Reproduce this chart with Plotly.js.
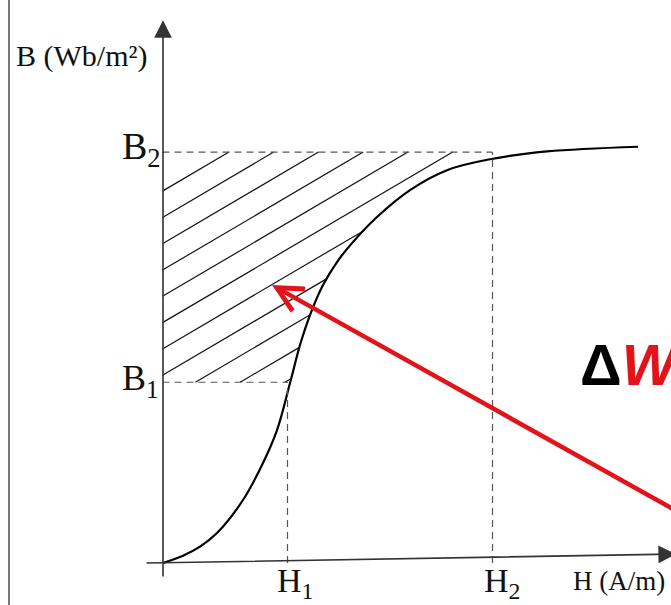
<!DOCTYPE html>
<html>
<head>
<meta charset="utf-8">
<script src="https://cdn.plot.ly/plotly-3.0.1.min.js"></script>
<style>html,body{margin:0;padding:0;background:#fff;}#chart{width:671px;height:605px;}</style>
</head>
<body>
<div id="chart"></div>
<script>
// B-H magnetisation curve (arbitrary units)
const curveH = [0, 0.41, 0.75, 1.09, 1.61, 2.01, 2.29, 2.55, 2.75, 2.95, 3.21, 3.49, 3.79, 4.29, 4.95, 5.69, 6.55, 7.69, 9.51];
const curveB = [0, 0.036, 0.080, 0.146, 0.307, 0.487, 0.647, 0.876, 1.061, 1.207, 1.353, 1.465, 1.557, 1.684, 1.815, 1.912, 1.965, 2.003, 2.026];
const H1 = 2.5, H2 = 6.6;
const B1 = 0.88, B2 = 2.0;
const tickLabelsH = ["H<sub>1</sub>", "H<sub>2</sub>"];
const tickLabelsB = ["B<sub>1</sub>", "B<sub>2</sub>"];
const arrowTip = [2.19, 1.353];
const arrowTail = [10.75, 0.19];

// hatch style
const hatchSlope = 0.143, hatchFirst = 1.81, hatchStep = 0.128, hatchCount = 11;

function f(h) {
  if (h <= curveH[0]) return curveB[0];
  for (let i = 1; i < curveH.length; i++) {
    if (h <= curveH[i]) {
      const t = (h - curveH[i-1]) / (curveH[i] - curveH[i-1]);
      return curveB[i-1] + t * (curveB[i] - curveB[i-1]);
    }
  }
  return curveB[curveB.length - 1];
}

const hx = [], hy = [];
for (let k = 0; k < hatchCount; k++) {
  const c = hatchFirst - k * hatchStep;
  let xs = Math.max(0, (B1 - c) / hatchSlope);
  let xe = (B2 - c) / hatchSlope;
  let step = 0.002, x = xs;
  while (x < xe) {
    if (c + hatchSlope * x < f(x)) { xe = x; break; }
    x += step;
  }
  if (xe <= xs) continue;
  hx.push(xs, xe, null);
  hy.push(c + hatchSlope * xs, c + hatchSlope * xe, null);
}

const traces = [
  {x: hx, y: hy, mode: 'lines', line: {color: '#111', width: 1.2}, hoverinfo: 'skip'},
  {x: curveH, y: curveB, mode: 'lines', line: {color: '#000', width: 2.2, shape: 'spline', smoothing: 1}, hoverinfo: 'skip'}
];

const W = 671, Hh = 605;
const px = (x) => x / W, py = (y) => 1 - y / Hh;
const dashLine = {color: '#555', width: 1.2, dash: '7px,5px'};

const serif = 'Liberation Serif, Times New Roman, serif';

const layout = {
  width: W, height: Hh,
  margin: {l: 0, r: 0, t: 0, b: 0},
  paper_bgcolor: '#fff', plot_bgcolor: '#fff',
  showlegend: false,
  xaxis: {range: [-3.25, 10.17], visible: false, fixedrange: true},
  yaxis: {range: [-0.204, 2.740], visible: false, fixedrange: true},
  shapes: [
    {type: 'line', xref: 'paper', yref: 'paper', x0: px(9), x1: px(9), y0: 0, y1: 1, line: {color: '#777', width: 2}},
    {type: 'line', xref: 'x', yref: 'y', x0: 0, x1: H2, y0: B2, y1: B2, line: dashLine},
    {type: 'line', xref: 'x', yref: 'y', x0: 0, x1: H1, y0: B1, y1: B1, line: dashLine},
    {type: 'line', xref: 'x', yref: 'y', x0: H1, x1: H1, y0: 0, y1: B1, line: dashLine},
    {type: 'line', xref: 'x', yref: 'y', x0: H2, x1: H2, y0: 0, y1: B2, line: dashLine}
  ],
  annotations: [
    {x: 0.01, y: 2.642, ax: 0.01, ay: -0.073, xref: 'x', yref: 'y', axref: 'x', ayref: 'y', text: '', showarrow: true,
     arrowhead: 2, arrowsize: 2.2, arrowwidth: 1.6, arrowcolor: '#333'},
    {x: 10.27, y: 0.044, ax: -0.35, ay: 0, xref: 'x', yref: 'y', axref: 'x', ayref: 'y', text: '', showarrow: true,
     arrowhead: 2, arrowsize: 2.2, arrowwidth: 1.6, arrowcolor: '#333'},
    {x: arrowTip[0], y: arrowTip[1], ax: arrowTail[0], ay: arrowTail[1], xref: 'x', yref: 'y', axref: 'x', ayref: 'y', text: '', showarrow: true,
     arrowhead: 5, arrowsize: 1.1, arrowwidth: 4.5, arrowcolor: '#e3131b'},
    {xref: 'paper', yref: 'paper', x: px(14), y: py(56), xanchor: 'left', yanchor: 'middle', showarrow: false,
     text: 'B (Wb/m²)', font: {family: serif, size: 30, color: '#111'}},
    {xref: 'paper', yref: 'paper', x: px(571), y: py(581), xanchor: 'left', yanchor: 'middle', showarrow: false,
     text: 'H (A/m)', font: {family: serif, size: 27, color: '#111'}},
    {xref: 'paper', yref: 'y', x: px(163), y: B2, xanchor: 'right', yanchor: 'middle', yshift: 3, showarrow: false,
     text: tickLabelsB[1], font: {family: serif, size: 38, color: '#111'}},
    {xref: 'paper', yref: 'y', x: px(161), y: B1, xanchor: 'right', yanchor: 'middle', yshift: 2, showarrow: false,
     text: tickLabelsB[0], font: {family: serif, size: 36, color: '#111'}},
    {xref: 'x', yref: 'paper', x: H1, y: py(583), xanchor: 'center', yanchor: 'middle', xshift: 7, showarrow: false,
     text: tickLabelsH[0], font: {family: serif, size: 34, color: '#111'}},
    {xref: 'x', yref: 'paper', x: H2, y: py(583), xanchor: 'center', yanchor: 'middle', xshift: 9, showarrow: false,
     text: tickLabelsH[1], font: {family: serif, size: 34, color: '#111'}},
    {xref: 'paper', yref: 'paper', x: px(578), y: py(364), xanchor: 'left', yanchor: 'middle', showarrow: false,
     text: '<b>Δ<span style="color:#e3131b"><i>W</i></span></b>', font: {family: 'Liberation Sans, Arial, sans-serif', size: 58, color: '#000'}}
  ]
};

Plotly.newPlot('chart', traces, layout, {staticPlot: true, displayModeBar: false});
</script>
</body>
</html>
